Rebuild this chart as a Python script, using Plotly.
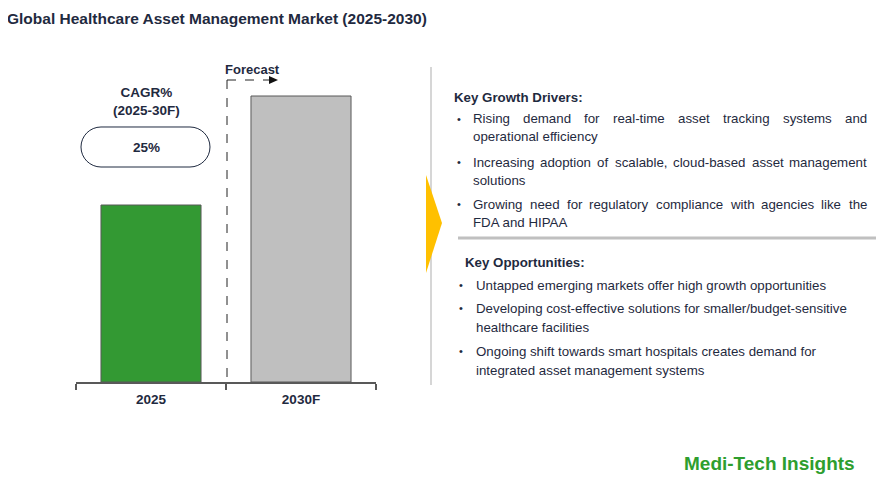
import plotly.graph_objects as go

W, H = 884, 493
OFF = 8  # page body margin
FW, FH = W - OFF, H - OFF

# bar data (relative market size, no value axis shown)
years = ["2025", "2030F"]
bar_heights = [177, 286]
bar_colors = ["#339933", "#bfbfbf"]

title_text = "Global Healthcare Asset Management Market (2025-2030)"
cagr_label = "CAGR%<br>(2025-30F)"
cagr_value = "25%"

drivers = [
    ["Rising demand for real-time asset tracking systems and", "operational efficiency"],
    ["Increasing adoption of scalable, cloud-based asset management", "solutions"],
    ["Growing need for regulatory compliance with agencies like the", "FDA and HIPAA"],
]
opportunities = [
    ["Untapped emerging markets offer high growth opportunities"],
    ["Developing cost-effective solutions for smaller/budget-sensitive", "healthcare facilities"],
    ["Ongoing shift towards smart hospitals creates demand for", "integrated asset management systems"],
]

TXT = "#1f2a40"
FONT = "Liberation Sans, Arial, sans-serif"
BODY = 13.3

# Arial / Liberation Sans advance widths (1/1000 em)
AW = dict(zip("abcdefghijklmnopqrstuvwxyz",
              [556, 556, 500, 556, 556, 278, 556, 556, 222, 222, 500, 222, 833,
               556, 556, 556, 556, 333, 500, 278, 556, 500, 722, 500, 500, 500]))
AW.update({"A": 667, "B": 667, "C": 722, "D": 722, "E": 667, "F": 611, "G": 778, "H": 722,
           "I": 278, "P": 667, "R": 722, "S": 667, "T": 611, "U": 722, "O": 778,
           ",": 278, "-": 333, "/": 278, ".": 278, " ": 278})


def width(s, size):
    return sum(AW.get(c, 556) for c in s) * size / 1000


def px(x, y):
    return (x - OFF) / FW, 1 - (y - OFF) / FH


fig = go.Figure()
fig.add_trace(go.Bar(
    x=years, y=bar_heights,
    marker=dict(color=bar_colors, line=dict(color="#595959", width=1)),
    width=0.667, showlegend=False, hoverinfo="skip",
))

ann = []
shapes = []


def text(x, y, s, size=13, bold=False, color=TXT, xanchor="left"):
    xp, yp = px(x, y)
    ann.append(dict(x=xp, y=yp, xref="paper", yref="paper", text=f"<b>{s}</b>" if bold else s,
                    showarrow=False, xanchor=xanchor, yanchor="middle", borderpad=0,
                    font=dict(size=size, color=color, family=FONT)))


def justified(x0, x1, y, s, size):
    words = s.split(" ")
    total = sum(width(w, size) for w in words)
    gap = (x1 - x0 - total) / (len(words) - 1)
    x = x0
    for w in words:
        text(x, y, w, size=size)
        x += width(w, size) + gap


def line(x0, y0, x1, y1, color, width, dash="solid"):
    a, b = px(x0, y0)
    c, d = px(x1, y1)
    shapes.append(dict(type="line", xref="paper", yref="paper", x0=a, y0=b, x1=c, y1=d,
                       line=dict(color=color, width=width, dash=dash)))


def path(points, fill, lc=None, lw=0):
    d = ""
    for i, p in enumerate(points):
        if isinstance(p[0], tuple):
            d += " C " + " ".join("%.5f,%.5f" % px(*q) for q in p)
        else:
            d += (" M " if i == 0 else " L ") + "%.5f,%.5f" % px(*p)
    d += " Z"
    shapes.append(dict(type="path", xref="paper", yref="paper", path=d, fillcolor=fill,
                       line=dict(color=lc or fill, width=lw)))


# title
text(6, 18, title_text, size=15.5, bold=True)

# forecast marker
line(227, 80, 227, 382, "#222222", 1, "dash")
line(227, 80, 270, 80, "#222222", 1, "dash")
path([(269, 76), (278, 80), (269, 84)], "#111111")
text(252, 69, "Forecast", size=13, bold=True, xanchor="center")

# CAGR label + pill
xp, yp = px(146, 102)
ann.append(dict(x=xp, y=yp, xref="paper", yref="paper", text="<b>" + cagr_label + "</b>",
                showarrow=False, xanchor="center", yanchor="middle",
                font=dict(size=13.5, color=TXT, family=FONT)))
k = 0.5523
x0, x1, y0, y1, r = 81, 210, 127, 167, 20
path([(x0 + r, y0), (x1 - r, y0),
      ((x1 - r + k * r, y0), (x1, y0 + r - k * r), (x1, y0 + r)),
      ((x1, y0 + r + k * r), (x1 - r + k * r, y1), (x1 - r, y1)),
      (x0 + r, y1),
      ((x0 + r - k * r, y1), (x0, y1 - r + k * r), (x0, y1 - r)),
      ((x0, y0 + r - k * r), (x0 + r - k * r, y0), (x0 + r, y0))],
     "white", lc="#1f2a40", lw=1)
text(146, 147, cagr_value, size=13.5, bold=True, xanchor="center")

# divider and arrow
line(431, 67, 431, 385, "#c8c8c8", 1.5)
path([(426, 175), (442, 223), (426, 273)], "#FFC000")
line(458, 238, 877, 238, "#c0c0c0", 3)

# drivers (first lines justified)
text(453, 97, "Key Growth Drivers:", size=BODY, bold=True)
ys = [[119, 137], [162, 180], [204, 222]]
for item, yy in zip(drivers, ys):
    text(456, yy[0], "•", size=11)
    justified(472, 866, yy[0], item[0], BODY)
    text(472, yy[1], item[1], size=BODY)

text(464, 262, "Key Opportunities:", size=BODY, bold=True)
ys = [[285], [308, 327], [351, 370]]
for item, yy in zip(opportunities, ys):
    text(458, yy[0], "•", size=11)
    for s, y in zip(item, yy):
        text(475, y, s, size=BODY)

text(683, 463, "Medi-Tech Insights", size=19, bold=True, color="#2e9e2e")

fig.update_layout(
    width=FW, height=FH,
    margin=dict(l=0, r=0, t=0, b=0),
    paper_bgcolor="white", plot_bgcolor="white",
    xaxis=dict(domain=[(76 - OFF) / FW, (376 - OFF) / FW], showline=True, linecolor="#595959", linewidth=2,
               ticks="outside", tickson="boundaries", ticklen=6, tickcolor="#595959", tickwidth=2,
               tickfont=dict(size=13.5, color=TXT, family=FONT), showgrid=False,
               ticklabelstandoff=4, tickprefix="<b>", ticksuffix="</b>"),
    yaxis=dict(domain=[1 - (382 - OFF) / FH, 1 - (82 - OFF) / FH], range=[0, 300], visible=False),
    bargap=0.33,
    annotations=ann, shapes=shapes,
)

fig.write_html("out.html")
